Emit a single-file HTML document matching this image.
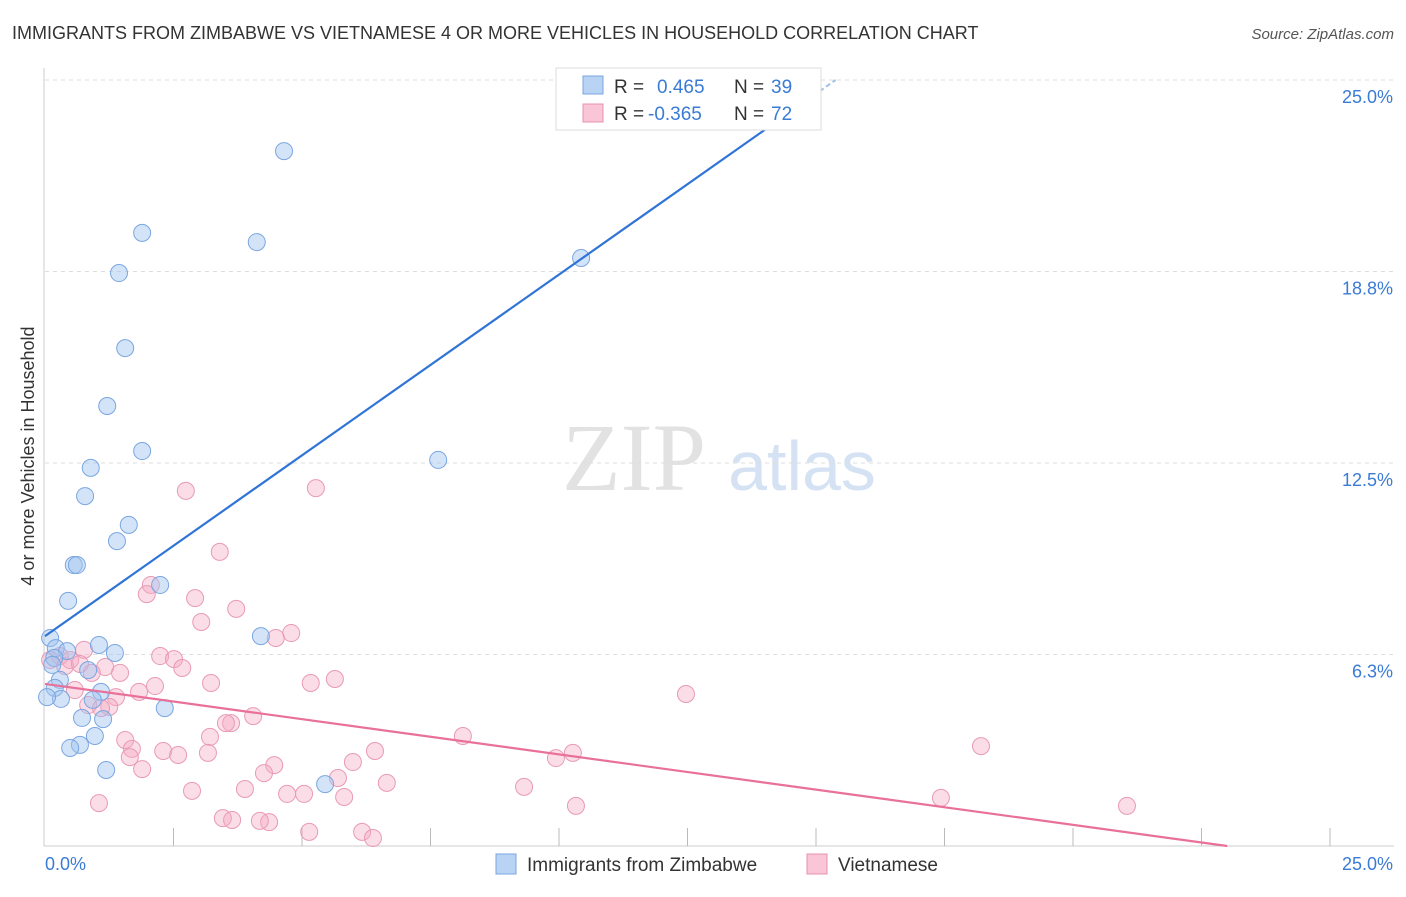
<!DOCTYPE html>
<html><head><meta charset="utf-8"><style>
body{margin:0;background:#fff;font-family:"Liberation Sans",sans-serif;}
svg text{font-family:"Liberation Sans",sans-serif;}
</style></head><body>
<svg id="chart" width="1406" height="892">
<text x="12" y="39" font-size="18" fill="#333">IMMIGRANTS FROM ZIMBABWE VS VIETNAMESE 4 OR MORE VEHICLES IN HOUSEHOLD CORRELATION CHART</text>
<text x="1394" y="39" font-size="15" fill="#555" font-style="italic" text-anchor="end">Source: ZipAtlas.com</text>
<text transform="translate(34,456) rotate(-90)" font-size="18" fill="#333" text-anchor="middle">4 or more Vehicles in Household</text>
<g>
<text x="634" y="490" font-size="96" fill="#e2e2e2" font-family="Liberation Serif" text-anchor="middle" style="font-family:'Liberation Serif',serif">ZIP</text>
<text x="802" y="490" font-size="70" fill="#d4e2f4" text-anchor="middle">atlas</text>
</g>
<g id="grid"></g><g id="axes"></g><g id="pts"></g><g id="trends"></g>
<g>
<rect x="556" y="68" width="265" height="62" fill="#fff" stroke="#ddd"/>
<rect x="583" y="76" width="20" height="18" fill="#b9d3f5" stroke="#7aa6e0"/>
<text x="614" y="93" font-size="19" fill="#333">R =</text>
<text x="657" y="93" font-size="19" fill="#3a7bd5">0.465</text>
<text x="734" y="93" font-size="19" fill="#333">N =</text>
<text x="771" y="93" font-size="19" fill="#3a7bd5">39</text>
<rect x="583" y="104" width="20" height="18" fill="#f8c6d6" stroke="#e890ae"/>
<text x="614" y="120" font-size="19" fill="#333">R =</text>
<text x="648" y="120" font-size="19" fill="#3a7bd5">-0.365</text>
<text x="734" y="120" font-size="19" fill="#333">N =</text>
<text x="771" y="120" font-size="19" fill="#3a7bd5">72</text>
</g>
<g>
<rect x="496" y="854" width="20" height="20" fill="#b9d3f5" stroke="#7aa6e0"/>
<text x="527" y="871" font-size="19" fill="#333">Immigrants from Zimbabwe</text>
<rect x="807" y="854" width="20" height="20" fill="#f8c6d6" stroke="#e890ae"/>
<text x="838" y="871" font-size="19" fill="#333">Vietnamese</text>
</g>
</svg>
<script>
const yTicks=[6.25,12.5,18.75,25];
const yTickLabels=["6.3%","12.5%","18.8%","25.0%"];
const xTicks=[2.5,5,7.5,10,12.5,15,17.5,20,22.5,25];
const blueX=[4.65,1.89,4.12,1.44,10.43,1.56,1.21,1.89,7.65,0.89,0.78,1.63,1.40,0.56,0.62,2.24,0.45,4.20,0.10,1.05,1.36,0.21,0.43,0.18,0.14,0.84,0.29,0.19,1.09,0.93,0.31,0.04,2.33,0.72,1.13,0.97,0.68,0.49,1.19,5.45];
const blueY=[22.68,20.01,19.71,18.70,19.19,16.25,14.36,12.89,12.60,12.34,11.42,10.48,9.95,9.17,9.17,8.52,8.00,6.85,6.79,6.56,6.30,6.46,6.36,6.14,5.91,5.74,5.42,5.16,5.03,4.77,4.80,4.86,4.50,4.18,4.14,3.59,3.30,3.20,2.48,2.02];
const pinkX=[2.74,5.27,3.40,2.06,1.98,2.92,3.72,3.04,4.79,4.49,0.76,2.24,2.51,0.29,0.10,0.49,0.39,0.68,1.17,2.67,0.91,1.46,3.23,2.14,5.64,5.17,0.58,1.83,1.38,0.84,1.25,1.09,12.47,4.05,3.62,3.52,8.13,3.21,1.56,1.69,2.30,2.59,3.17,6.42,4.46,5.99,1.65,1.89,4.26,9.94,10.27,18.21,5.70,6.65,3.89,2.86,9.32,4.71,5.04,5.82,1.05,10.33,17.43,21.05,3.46,3.64,4.36,4.18,5.14,6.17,6.38];
const pinkY=[11.59,11.68,9.60,8.52,8.22,8.09,7.74,7.31,6.95,6.79,6.40,6.20,6.10,6.20,6.07,6.07,5.87,5.94,5.84,5.81,5.65,5.65,5.32,5.22,5.45,5.32,5.09,5.03,4.86,4.60,4.54,4.50,4.96,4.24,4.01,4.01,3.59,3.56,3.46,3.17,3.10,2.97,3.04,3.10,2.64,2.74,2.90,2.51,2.38,2.87,3.04,3.26,2.22,2.06,1.86,1.80,1.93,1.70,1.70,1.60,1.40,1.31,1.57,1.31,0.91,0.85,0.78,0.82,0.46,0.46,0.26];
const blueTrend=[6.85,1.18];
const pinkTrend=[5.29,-0.23];
const NS="http://www.w3.org/2000/svg";
const sx=v=>45+v/25*1285, sy=v=>846-v/25*766;
function mk(tag,attrs,parent){const e=document.createElementNS(NS,tag);for(const k in attrs)e.setAttribute(k,attrs[k]);parent.appendChild(e);return e;}
const grid=document.getElementById('grid'),axes=document.getElementById('axes'),pts=document.getElementById('pts'),tr=document.getElementById('trends');
yTicks.forEach((t,i)=>{
 const l=mk('line',{x1:45,x2:1394,y1:sy(t),y2:sy(t),stroke:'#ddd','stroke-dasharray':'4,4'},grid);
 
 
 const tx=mk('text',{x:1393,y:sy(t)+23,'font-size':18,fill:'#3a7bd5','text-anchor':'end'},grid);
 tx.textContent=yTickLabels[i];
 
 
});
const ya=mk('line',{x1:44,x2:44,y1:68,y2:846,stroke:'#ccc'},axes);


const xa=mk('line',{x1:44,x2:1394,y1:846,y2:846,stroke:'#ccc'},axes);


xTicks.forEach(t=>{
 const l=mk('line',{x1:sx(t),x2:sx(t),y1:828,y2:846,stroke:'#bbb'},axes);
 
 
});
const x0=mk('text',{x:45,y:870,'font-size':18,fill:'#3a7bd5'},axes);x0.textContent='0.0%';


const x1=mk('text',{x:1393,y:870,'font-size':18,fill:'#3a7bd5','text-anchor':'end'},axes);x1.textContent='25.0%';


pinkX.forEach((x,i)=>{
 const c=mk('circle',{cx:sx(x),cy:sy(pinkY[i]),r:8.5,fill:'rgba(245,170,196,0.4)',stroke:'#e99ab6','stroke-width':1},pts);
 
 
});
blueX.forEach((x,i)=>{
 const c=mk('circle',{cx:sx(x),cy:sy(blueY[i]),r:8.5,fill:'rgba(160,196,240,0.45)',stroke:'#7aa6e0','stroke-width':1},pts);
 
 
});
const bEnd=(25-blueTrend[0])/blueTrend[1], bSolid=bEnd*0.93;
const bl=mk('line',{x1:sx(0),y1:sy(blueTrend[0]),x2:sx(bSolid),y2:sy(blueTrend[0]+blueTrend[1]*bSolid),stroke:'#2f74d6','stroke-width':2.2},tr);


const bd=mk('line',{x1:sx(bSolid),y1:sy(blueTrend[0]+blueTrend[1]*bSolid),x2:sx(bEnd),y2:sy(25),stroke:'#9cc0ec','stroke-width':2,'stroke-dasharray':'5,3'},tr);


const pEnd=-pinkTrend[0]/pinkTrend[1];
const pl=mk('line',{x1:sx(0),y1:sy(pinkTrend[0]),x2:sx(pEnd),y2:sy(0),stroke:'#e8709a','stroke-width':2.2},tr);


</script>
</body></html>
